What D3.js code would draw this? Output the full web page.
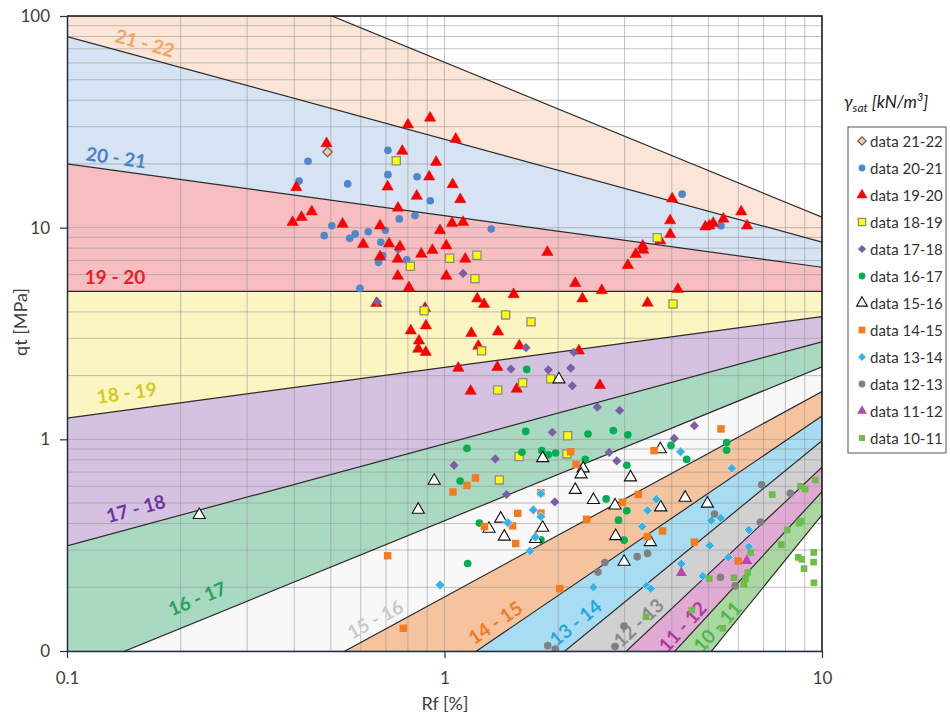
<!DOCTYPE html>
<html>
<head>
<meta charset="utf-8">
<style>
  body { margin: 0; background: #fff; }
  svg text { font-family: Lato, "Open Sans", sans-serif; }
</style>
</head>
<body>
<svg id="chart" width="950" height="713"></svg>
<script src="https://cdn.jsdelivr.net/npm/d3@7"></script>
<script>
// boundary lines of the unit-weight zones, straight in log-log space:
// qt [MPa] read at Rf = 0.1 % and at Rf = 10 %
const lineQtAt01 = [326.6, 80, 20, 5, 1.26, 0.314, 0.0773, 0.0193, 0.00482, 0.00119, 0.000327, 0.0000767, 0.0000175];
const lineQtAt10 = [11.2, 8.55, 6.5, 5, 3.8, 2.89, 2.2, 1.68, 1.29, 0.986, 0.738, 0.566, 0.44];

const zoneNames = ["21 - 22", "20 - 21", "19 - 20", "18 - 19", "17 - 18", "16 - 17",
                   "15 - 16", "14 - 15", "13 - 14", "12 - 13", "11 - 12", "10 - 11"];
// where each zone name sits (Rf, qt) and which boundary it runs along
const zoneLabelRf = [0.161, 0.135, 0.134, 0.144, 0.152, 0.221, 0.654, 1.36, 2.22, 3.26, 4.26, 5.27];
const zoneLabelQt = [75, 21.6, 5.85, 1.67, 0.474, 0.178, 0.142, 0.137, 0.137, 0.137, 0.131, 0.131];
const zoneLabelAlong = [1, 2, 3, 4, 5, 6, 7, 8, 9, 10, 11, 11];

const xTicks = [0.1, 1, 10];
const yTicks = [0.1, 1, 10, 100];

// measured points [Rf %, qt MPa]
const d2122 = [[0.49, 22.8]];
const d2021 = [[0.435,20.6],[0.412,16.6],[0.554,16.1],[0.708,23.2],[0.708,17.8],[0.846,17.4],[0.917,13.4],[0.759,11.0],
  [0.835,11.4],[0.503,10.2],[0.48,9.17],[0.561,8.91],[0.58,9.34],[0.628,9.57],[0.697,9.72],[0.678,8.53],[0.755,7.93],
  [0.686,7.38],[0.669,6.86],[0.794,7.04],[0.597,5.17],[1.33,9.86],[4.26,14.4],[5.40,10.2]];
const d1920 = [[0.80,30.6],[0.916,33.0],[1.071,26.2],[0.487,25.0],[0.773,23.0],[0.95,20.4],[0.911,17.4],[0.707,15.6],
  [1.051,16.0],[0.405,15.5],[0.844,14.1],[1.101,13.6],[0.753,12.4],[0.445,11.9],[0.418,11.2],[0.396,10.6],[0.537,10.4],
  [0.675,10.2],[1.047,10.5],[1.12,10.6],[0.973,9.70],[0.609,8.35],[0.713,8.40],[0.762,8.13],[0.868,7.51],[0.929,7.82],
  [1.011,8.22],[0.675,7.29],[0.752,7.11],[1.135,7.11],[0.752,5.91],[1.011,5.91],[0.805,5.21],[1.221,4.62],[1.873,7.65],
  [2.22,5.46],[2.61,5.05],[3.06,6.64],[3.21,7.49],[3.35,8.20],[3.36,7.85],[3.73,8.68],[3.96,9.31],[3.96,10.8],[4.01,13.7],
  [3.45,4.41],[4.15,5.12],[4.91,10.1],[5.03,10.2],[5.15,10.5],[5.48,11.0],[6.11,11.9],[6.33,10.2],[1.273,4.35],[1.525,4.84],
  [2.32,4.62],[0.888,4.16],[0.893,3.44],[0.814,3.26],[0.856,2.92],[0.852,2.67],[0.892,2.58],[1.088,2.17],[1.178,3.17],
  [1.386,3.22],[1.229,2.76],[1.578,2.77],[2.27,2.62],[1.38,2.19],[1.173,1.69],[1.554,1.73],[2.58,1.80],[0.66,4.39]];
const d1819 = [[0.745,20.7],[1.032,7.17],[0.812,6.57],[1.219,7.41],[1.204,5.74],[3.66,8.97],[4.03,4.36],[0.883,4.05],
  [1.452,3.87],[1.695,3.59],[1.254,2.62],[1.611,1.85],[1.383,1.71],[1.911,1.93],[2.12,1.04],[1.576,0.829],[2.11,0.853],
  [1.397,0.643]];
const d1718 = [[1.12,6.08],[0.664,4.46],[1.06,0.754],[1.644,2.71],[1.50,2.15],[1.884,2.13],[2.16,2.17],[2.20,2.58],
  [2.18,1.79],[2.54,1.42],[2.91,1.37],[4.59,1.16],[4.06,1.01],[1.93,1.08],[1.363,0.808],[2.73,0.867],[2.86,0.791],
  [1.46,0.549],[1.96,0.506]];
const d1617 = [[1.651,2.14],[1.641,1.09],[2.40,1.06],[2.80,1.10],[3.06,1.05],[1.147,0.906],[1.604,0.869],[1.81,0.884],
  [1.884,0.846],[1.97,0.862],[2.36,0.805],[3.04,0.754],[1.10,0.635],[2.68,0.523],[3.04,0.46],[2.89,0.415],[2.99,0.334],
  [1.237,0.402],[1.80,0.335],[1.152,0.259],[3.98,0.936],[4.38,0.804],[5.59,0.965],[5.59,0.888]];
const d1516 = [[0.224,0.439],[0.939,0.637],[0.852,0.465],[2.01,1.92],[1.82,0.815],[2.33,0.729],[2.30,0.683],[3.11,0.661],
  [2.22,0.577],[2.48,0.517],[2.83,0.487],[3.73,0.898],[3.74,0.477],[4.34,0.53],[4.97,0.497],[1.409,0.422],[1.312,0.378],
  [1.44,0.347],[1.82,0.382],[1.742,0.338],[2.84,0.349],[3.51,0.327],[2.99,0.264]];
const d1415 = [[0.707,0.282],[0.778,0.128],[1.053,0.564],[2.16,0.874],[2.23,0.76],[1.208,0.657],[1.147,0.606],[1.80,0.56],
  [1.80,0.448],[1.563,0.447],[1.276,0.387],[1.514,0.39],[1.544,0.322],[5.40,1.12],[3.59,0.884],[2.96,0.505],[3.26,0.549],
  [2.38,0.419],[3.78,0.369],[3.45,0.347],[4.59,0.327],[2.02,0.197],[6.00,0.266]];
const d1314 = [[0.973,0.205],[4.22,0.874],[5.77,0.73],[1.80,0.554],[1.719,0.464],[1.471,0.404],[1.80,0.431],[1.74,0.345],
  [1.685,0.297],[2.48,0.2],[3.64,0.521],[3.45,0.461],[3.34,0.387],[5.09,0.413],[5.39,0.425],[6.40,0.373],[5.04,0.315],
  [6.40,0.311],[5.65,0.277],[4.24,0.258],[4.83,0.226],[3.43,0.203],[3.52,0.197]];
const d1213 = [[3.45,0.289],[3.24,0.279],[2.66,0.262],[2.55,0.236],[5.19,0.444],[6.92,0.61],[8.24,0.556],[6.87,0.406],
  [5.38,0.223],[5.89,0.203],[1.877,0.106],[1.966,0.102],[2.83,0.105],[2.99,0.131]];
const d1112 = [[6.32,0.267],[4.24,0.234]];
const d1011 = [[7.38,0.548],[8.77,0.6],[9.02,0.582],[9.61,0.643],[8.69,0.402],[8.80,0.41],[8.09,0.373],[7.80,0.318],
  [8.65,0.277],[8.84,0.271],[8.96,0.245],[9.50,0.263],[9.51,0.292],[9.52,0.21],[6.47,0.292],[6.36,0.235],[6.27,0.22],
  [6.21,0.207],[5.84,0.222],[5.03,0.22],[3.42,0.145],[5.46,0.128],[4.52,0.156]];

const seriesNames = ["data 21-22", "data 20-21", "data 19-20", "data 18-19", "data 17-18", "data 16-17",
                     "data 15-16", "data 14-15", "data 13-14", "data 12-13", "data 11-12", "data 10-11"];
const seriesData = [d2122, d2021, d1920, d1819, d1718, d1617, d1516, d1415, d1314, d1213, d1112, d1011];

// look
const zoneFills = ["#FBE5D6", "#D5E3F2", "#F7BEC2", "#FBF5C2", "#D4C2E0", "#A9D9C1",
                   "#F8F8F8", "#F5C39D", "#A8DCF2", "#D1D1D1", "#E1AAD5", "#A9D8A1"];
const zoneTextColors = ["#F4A463", "#4A82C4", "#EE1C25", "#D3CB22", "#6E35A0", "#22A45A",
                        "#C9C9C9", "#F07B20", "#1FA8E2", "#8A8A8A", "#B0389E", "#4CB848"];
const markerStyle = [
  {shape: "diamond", size: 44, fill: "#F8CBAD", stroke: "#6F5A4A", sw: 1.2},
  {shape: "circle", size: 46, fill: "#4F88CA", stroke: "none", sw: 0},
  {shape: "triangle", size: 55, fill: "#FF0000", stroke: "#E00000", sw: 0.5},
  {shape: "square", size: 66, fill: "#FFFF00", stroke: "#8C8C8C", sw: 1.3},
  {shape: "diamond", size: 42, fill: "#7B5EA7", stroke: "none", sw: 0},
  {shape: "circle", size: 46, fill: "#00B050", stroke: "none", sw: 0},
  {shape: "triangle", size: 64, fill: "#FFFFFF", stroke: "#111", sw: 1.1},
  {shape: "square", size: 56, fill: "#F47B20", stroke: "none", sw: 0},
  {shape: "diamond", size: 46, fill: "#38B2E6", stroke: "#E8F6FC", sw: 0.6},
  {shape: "circle", size: 46, fill: "#808080", stroke: "none", sw: 0},
  {shape: "triangle", size: 52, fill: "#B848AA", stroke: "none", sw: 0},
  {shape: "square", size: 44, fill: "#6CBE48", stroke: "none", sw: 0}
];

const plotLeft = 67, plotRight = 822, plotTop = 16, plotBottom = 651;
const x = d3.scaleLog().domain([0.1, 10]).range([plotLeft, plotRight]);
const y = d3.scaleLog().domain([0.1, 100]).range([plotBottom, plotTop]);

const svg = d3.select("#chart");
svg.append("rect").attr("width", 950).attr("height", 713).attr("fill", "#fff");

svg.append("defs").append("clipPath").attr("id", "plotClip")
  .append("rect").attr("x", plotLeft).attr("y", plotTop)
  .attr("width", plotRight - plotLeft).attr("height", plotBottom - plotTop);

const plot = svg.append("g").attr("clip-path", "url(#plotClip)");

// zones
const line = d3.line().x(d => x(d[0])).y(d => y(d[1]));
zoneNames.forEach((name, i) => {
  const pts = [[0.1, lineQtAt01[i]], [10, lineQtAt10[i]], [10, lineQtAt10[i + 1]], [0.1, lineQtAt01[i + 1]]];
  plot.append("path").attr("d", line(pts) + "Z").attr("fill", zoneFills[i]);
});

// grid
plot.append("g").selectAll("line").data(x.ticks()).join("line")
  .attr("x1", d => x(d)).attr("x2", d => x(d)).attr("y1", plotTop).attr("y2", plotBottom)
  .attr("stroke", "#9a9a9a").attr("stroke-opacity", 0.6).attr("stroke-width", 1);
plot.append("g").selectAll("line").data(y.ticks()).join("line")
  .attr("y1", d => y(d)).attr("y2", d => y(d)).attr("x1", plotLeft).attr("x2", plotRight)
  .attr("stroke", "#9a9a9a").attr("stroke-opacity", 0.6).attr("stroke-width", 1);

// boundaries
lineQtAt01.forEach((q, i) => {
  plot.append("path").attr("d", line([[0.1, q], [10, lineQtAt10[i]]]))
    .attr("fill", "none").attr("stroke", "#2b2b2b").attr("stroke-width", 1.2);
});

// zone names
zoneNames.forEach((name, i) => {
  const k = zoneLabelAlong[i];
  const ang = Math.atan2(y(lineQtAt10[k]) - y(lineQtAt01[k]), x(10) - x(0.1)) * 180 / Math.PI;
  const px = x(zoneLabelRf[i]), py = y(zoneLabelQt[i]);
  plot.append("text")
    .attr("transform", `translate(${px},${py}) rotate(${ang})`)
    .attr("text-anchor", "middle").attr("dominant-baseline", "central")
    .attr("font-size", 19).attr("font-weight", "bold")
    .attr("fill", zoneTextColors[i]).text(name);
});

// markers
const shapes = {circle: d3.symbolCircle, triangle: d3.symbolTriangle, square: d3.symbolSquare, diamond: d3.symbolSquare};
function marker(sel, st) {
  sel.attr("d", d3.symbol().type(shapes[st.shape]).size(st.size))
    .attr("fill", st.fill).attr("stroke", st.stroke).attr("stroke-width", st.sw);
}
seriesData.forEach((data, i) => {
  const st = markerStyle[i];
  plot.append("g").selectAll("path").data(data).join("path")
    .attr("transform", d => `translate(${x(d[0])},${y(d[1])})` + (st.shape === "diamond" ? " rotate(45)" : ""))
    .call(marker, st);
});

// frame top / right
svg.append("path").attr("d", `M${plotLeft},${plotTop}H${plotRight}V${plotBottom}`)
  .attr("fill", "none").attr("stroke", "#111").attr("stroke-width", 1.5);

// axes
const axisColor = "#1f2d4a";
const yAxis = svg.append("g").attr("transform", `translate(${plotLeft},0)`)
  .call(d3.axisLeft(y).tickValues(yTicks).tickSize(7).tickSizeOuter(0).tickPadding(10)
    .tickFormat(d => d === 0.1 ? "0" : d3.format("~g")(d)));
const xAxis = svg.append("g").attr("transform", `translate(0,${plotBottom})`)
  .call(d3.axisBottom(x).tickValues(xTicks).tickSize(7).tickSizeOuter(0).tickPadding(14)
    .tickFormat(d3.format("~g")));
[xAxis, yAxis].forEach(a => {
  a.select(".domain").attr("stroke", axisColor).attr("stroke-width", 1.5);
  a.selectAll(".tick line").attr("stroke", axisColor).attr("stroke-width", 1.2);
  a.selectAll(".tick text").attr("font-size", 17).attr("fill", "#404040")
    .attr("font-family", "Lato, 'Open Sans', sans-serif");
});

svg.append("text").attr("transform", "translate(20,322) rotate(-90)")
  .attr("text-anchor", "middle").attr("dominant-baseline", "central")
  .attr("font-size", 18).attr("fill", "#404040").text("qt [MPa]");
svg.append("text").attr("x", 445).attr("y", 703)
  .attr("text-anchor", "middle").attr("dominant-baseline", "central")
  .attr("font-size", 18).attr("fill", "#404040").text("Rf [%]");

// legend
const title = svg.append("text").attr("x", 844).attr("y", 108)
  .attr("font-family", "'DejaVu Serif', 'Liberation Serif', serif").attr("font-style", "italic")
  .attr("font-size", 17).attr("fill", "#222");
title.append("tspan").text("γ");
title.append("tspan").attr("font-size", 12).attr("dy", 4).text("sat");
title.append("tspan").attr("dy", -4).text(" [kN/m");
title.append("tspan").attr("font-size", 11).attr("dy", -7).text("3");
title.append("tspan").attr("dy", 7).text("]");

svg.append("rect").attr("x", 848).attr("y", 127).attr("width", 98).attr("height", 326)
  .attr("fill", "#fff").attr("stroke", "#555").attr("stroke-width", 1);
const leg = svg.append("g").selectAll("g").data(seriesNames).join("g")
  .attr("transform", (d, i) => `translate(862,${141 + i * 27})`);
leg.append("path")
  .attr("transform", (d, i) => markerStyle[i].shape === "diamond" ? "rotate(45)" : null)
  .each(function (d, i) { d3.select(this).call(marker, Object.assign({}, markerStyle[i], {size: markerStyle[i].size * 0.8})); });
leg.append("text").attr("x", 8).attr("dominant-baseline", "central")
  .attr("font-size", 15).attr("fill", "#333").text(d => d);
</script>
</body>
</html>
